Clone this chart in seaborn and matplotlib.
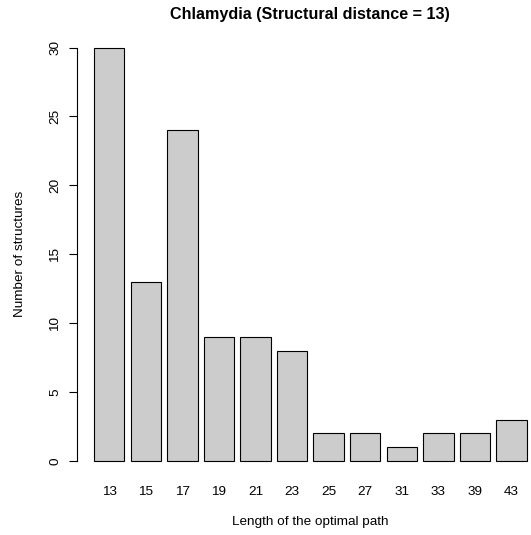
import matplotlib
matplotlib.use("Agg")
import matplotlib.pyplot as plt
import seaborn as sns
import pandas as pd

path_lengths = ["13", "15", "17", "19", "21", "23", "25", "27", "31", "33", "39", "43"]
counts = [30, 13, 24, 9, 9, 8, 2, 2, 1, 2, 2, 3]
y_ticks = [0, 5, 10, 15, 20, 25, 30]

title = "Chlamydia (Structural distance = 13)"
xlabel = "Length of the optimal path"
ylabel = "Number of structures"

sns.set_style("white")
plt.rcParams["font.family"] = ["Liberation Sans", "DejaVu Sans"]
plt.rcParams["text.color"] = "black"
plt.rcParams["axes.labelcolor"] = "black"
plt.rcParams["xtick.color"] = "black"
plt.rcParams["ytick.color"] = "black"

W, H = 531, 535
fig = plt.figure(figsize=(W / 100, H / 100), dpi=100)
left_px, right_px, top_px, bottom_px = 76.7, 544.0, 31.0, 477.5
ax = fig.add_axes([left_px / W, 1 - bottom_px / H, (right_px - left_px) / W, (bottom_px - top_px) / H])

df = pd.DataFrame({"length": path_lengths, "count": counts})
sns.barplot(data=df, x="length", y="count", order=path_lengths, color="#CCCCCC",
            saturation=1, edgecolor="black", linewidth=0.8, width=1 / 1.2, ax=ax)

ax.set_xlim(-0.89, 11.89)
ax.set_ylim(-1.2, 31.2)

for s in ["top", "right", "bottom"]:
    ax.spines[s].set_visible(False)
ax.spines["left"].set_bounds(0, 30)
ax.spines["left"].set_color("black")
ax.spines["left"].set_linewidth(0.8)

fs = 9.7
ax.set_yticks(y_ticks)
ax.set_yticklabels([str(v) for v in y_ticks], rotation=90, va="center")
ax.tick_params(axis="y", length=6, width=0.8, color="black", pad=5, labelsize=fs, left=True)
ax.tick_params(axis="x", length=0, pad=6, labelsize=fs)

ax.set_xlabel(xlabel, fontsize=fs, va="center")
ax.set_ylabel(ylabel, fontsize=fs, va="center")
axw = right_px - left_px
axh = bottom_px - top_px
ax.xaxis.set_label_coords((310 - left_px) / axw, -(522 - bottom_px) / axh)
ax.yaxis.set_label_coords((20 - left_px) / axw, 0.5)

ax.set_title(title, fontsize=11.6, fontweight="bold", y=1 + (top_px - 15) / axh, va="center", pad=0)

fig.savefig("out.png", dpi=100)
